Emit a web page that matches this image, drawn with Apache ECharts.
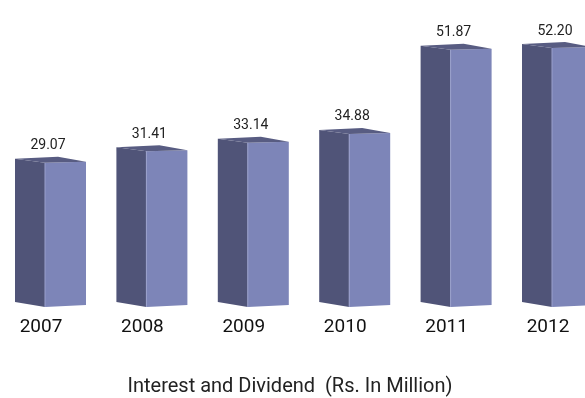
<!DOCTYPE html>
<html><head><meta charset="utf-8">
<script src="https://cdn.jsdelivr.net/npm/echarts@6/dist/echarts.min.js"></script>
<style>html,body{margin:0;padding:0;background:#fff}#c{width:585px;height:398px}</style>
</head><body><div id="c"></div>
<script>
const categories = ['2007', '2008', '2009', '2010', '2011', '2012'];
const values = [29.07, 31.41, 33.14, 34.88, 51.87, 52.20];
const titleText = 'Interest and Dividend  (Rs. In Million)';

const chart = echarts.init(document.getElementById('c'));
const FONT = 'Roboto';
chart.setOption({
  animation: false,
  backgroundColor: '#fff',
  title: {
    text: titleText, left: 285, top: 372, textAlign: 'center',
    textStyle: { fontFamily: FONT, fontSize: 20, fontWeight: 'normal', color: '#222' }
  },
  grid: { left: 0.3, width: 608.4, top: 9.4, height: 297.6, outerBoundsMode: 'none', containLabel: false },
  xAxis: {
    type: 'category', data: categories,
    axisLine: { show: false }, axisTick: { show: false },
    axisLabel: { margin: 11, fontFamily: FONT, fontSize: 19, color: '#111', padding: [0, 20, 0, 0] }
  },
  yAxis: { type: 'value', min: 0, max: 60, show: false, splitLine: { show: false } },
  series: [{
    type: 'custom',
    data: values.map((v, i) => [i, v]),
    encode: { x: 0, y: 1 },
    renderItem: function (params, api) {
      const i = api.value(0), v = api.value(1);
      const top = api.coord([i, v]);
      const bot = api.coord([i, 0]);
      const fx = top[0] - 6, lx = fx - 30, rx = fx + 41;
      const ty = top[1], by = bot[1];
      return {
        type: 'group',
        children: [
          { type: 'polygon', shape: { points: [[lx, ty - 4], [fx, ty], [fx, by], [lx, by - 5]] },
            style: { fill: '#505478' } },
          { type: 'polygon', shape: { points: [[fx, ty], [rx, ty - 1], [rx, by - 2], [fx, by]] },
            style: { fill: '#7d85b8' } },
          { type: 'polygon', shape: { points: [[lx, ty - 4], [fx + 13, ty - 6], [rx, ty - 1], [fx, ty]] },
            style: { fill: '#585c82' } },
          { type: 'line', shape: { x1: fx, y1: ty, x2: fx, y2: by },
            style: { stroke: '#9aa0cc', lineWidth: 1 } },
          { type: 'text', style: { x: fx + 3, y: ty - 17, text: v.toFixed(2), align: 'center', verticalAlign: 'middle',
            font: '14px ' + FONT, fill: '#222' } }
        ]
      };
    }
  }]
});
</script></body></html>
